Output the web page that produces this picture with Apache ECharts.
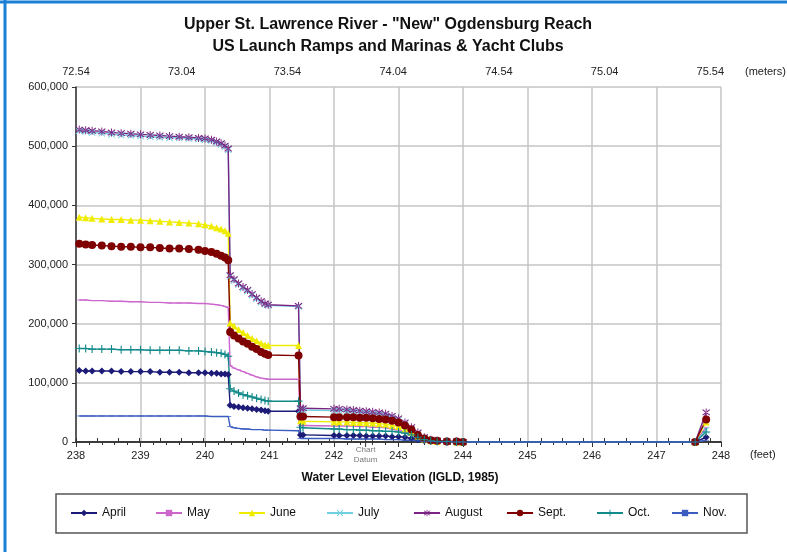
<!DOCTYPE html>
<html><head><meta charset="utf-8">
<script src="https://cdn.jsdelivr.net/npm/echarts@6/dist/echarts.min.js"></script>
<style>html,body{margin:0;padding:0;background:#fff}#c{width:787px;height:552px}</style>
</head><body><div id="c"></div>
<script>
// Water level (feet, IGLD 1985) shared by all series
const waterLevelFt = [
  238.05, 238.15, 238.25, 238.4, 238.55, 238.7, 238.85, 239.0, 239.15, 239.3,
  239.45, 239.6, 239.75, 239.9, 240.0, 240.1, 240.18, 240.25, 240.31, 240.36,
  240.39, 240.45, 240.52, 240.59, 240.66, 240.73, 240.8, 240.87, 240.93, 240.98, 241.45,
  241.48, 241.52, 242.0, 242.08, 242.2, 242.3, 242.4, 242.5, 242.6, 242.7,
  242.8, 242.9, 243.0, 243.1, 243.2, 243.3, 243.4, 243.5, 243.6, 243.75, 243.9, 244.0,
  247.6, 247.77
];
const aprilValues = [
  121000,120000,120000,120000,120000,119000,119000,119000,119000,118000,
  118000,118000,117000,117000,117000,116000,116000,115000,115000,114000,
  62000,60000,59000,58000,57000,56000,55000,54000,53000,52000,52000,
  12000,12000,11000,11000,11000,11000,11000,10000,10000,10000,
  10000,9000,9000,8000,6000,4000,2000,1000,1000,0,0,0,
  0,8000
];
const mayValues = [
  240000,240000,239000,239000,238000,238000,237000,237000,236000,236000,
  235000,235000,235000,234000,234000,233000,232000,231000,229000,227000,
  129000,125000,122000,119000,116000,113000,110000,108000,107000,106000,106000,
  28000,28000,27000,27000,27000,27000,26000,26000,25000,25000,
  24000,22000,20000,17000,12000,7000,4000,2000,1000,0,0,0,
  0,25000
];
const juneValues = [
  380000,379000,378000,377000,376000,376000,375000,375000,374000,373000,
  372000,371000,370000,369000,367000,365000,362000,360000,357000,353000,
  201000,196000,190000,185000,180000,175000,171000,167000,164000,163000,163000,
  36000,35000,34000,34000,34000,33000,33000,32000,32000,31000,
  30000,28000,26000,22000,16000,10000,5000,2000,1000,1000,0,0,
  0,34000
];
const julyValues = [
  526000,525000,523000,522000,520000,519000,518000,517000,516000,515000,
  514000,514000,513000,512000,511000,509000,506000,503000,499000,494000,
  280000,273000,266000,260000,255000,248000,242000,236000,233000,231000,229000,
  54000,54000,53000,53000,52000,51000,50000,49000,48000,47000,
  45000,41000,37000,30000,22000,14000,7000,3000,2000,1000,0,0,
  0,20000
];
const augustValues = [
  528000,527000,526000,525000,523000,522000,521000,520000,519000,518000,
  517000,516000,515000,514000,513000,511000,508000,505000,501000,496000,
  282000,275000,268000,262000,257000,250000,244000,238000,234000,232000,230000,
  57000,57000,56000,56000,55000,54000,53000,52000,51000,50000,
  48000,44000,40000,33000,25000,16000,8000,4000,2000,1000,1000,0,
  0,50000
];
const septValues = [
  335000,334000,333000,332000,331000,330000,330000,329000,329000,328000,
  327000,327000,326000,325000,323000,321000,318000,315000,312000,307000,
  186000,180000,175000,170000,166000,161000,157000,152000,149000,147000,146000,
  43000,43000,42000,42000,42000,42000,41000,41000,40000,39000,
  38000,36000,33000,28000,21000,12000,6000,3000,2000,1000,1000,0,
  0,38000
];
const octValues = [
  158000,158000,157000,157000,157000,156000,156000,156000,155000,155000,
  155000,155000,154000,154000,153000,152000,151000,150000,148000,145000,
  90000,86000,83000,80000,78000,76000,74000,72000,70000,69000,69000,
  25000,24000,22000,22000,21000,21000,20000,20000,19000,19000,
  18000,18000,17000,15000,12000,8000,4000,2000,1000,1000,0,0,
  0,17000
];
const novValues = [
  44000,44000,44000,44000,44000,44000,44000,44000,44000,44000,
  44000,44000,44000,44000,44000,43000,43000,43000,43000,43000,
  26000,24000,23000,22000,22000,21000,21000,21000,20000,20000,19000,
  6000,6000,6000,6000,5000,5000,5000,5000,5000,5000,
  4000,4000,4000,3000,3000,2000,1000,1000,0,0,0,0,
  0,3000
];
const seriesNames = ['April','May','June','July','August','Sept.','Oct.','Nov.'];
const seriesValues = [aprilValues, mayValues, juneValues, julyValues, augustValues, septValues, octValues, novValues];
const meterLabels = [72.54, 73.04, 73.54, 74.04, 74.54, 75.04, 75.54];
const meterMinorTicks = [72.54,72.64,72.74,72.84,72.94,73.04,73.14,73.24,73.34,73.44,73.54,73.64,73.74,73.84,73.94,74.04,
  74.14,74.24,74.34,74.44,74.54,74.64,74.74,74.84,74.94,75.04,75.14,75.24,75.34,75.44,75.54];
const chartDatumFt = 242.49;
const FT_PER_M = 3.28084;

const colors = ['#1c1c78','#cc66cc','#f0ec00','#70cfe0','#7b2383','#7f0000','#138a8a','#3a5cc0'];
const DASH = 'path://M0,0H10V3.5H0Z';
const symbols = [
  'diamond',
  DASH,
  'triangle',
  'path://M1,0L5,4L9,0L10,1L6,5L10,9L9,10L5,6L1,10L0,9L4,5L0,1Z',
  'path://M1,1L5,4.2L9,1L10,2L6,5L10,8L9,9L5,5.8L1,9L0,8L4,5L0,2ZM4.4,0L4.4,10L5.6,10L5.6,0Z',
  'circle',
  'path://M4.3,0H5.7V4.3H10V5.7H5.7V10H4.3V5.7H0V4.3H4.3Z',
  DASH
];
const symbolSizes = [7, [5,2], 7, 7, 8, 8, 8, [6,2]];
const legendLefts = [70, 155, 238, 326, 413, 506, 596, 671];

const FONT = '"Liberation Sans", Arial, sans-serif';
const NARROW = '"Liberation Sans Narrow", "Liberation Sans", Arial, sans-serif';

const chart = echarts.init(document.getElementById('c'), null, {renderer: 'canvas'});
const option = {
  animation: false,
  backgroundColor: '#fff',
  title: {
    text: 'Upper St. Lawrence River - "New" Ogdensburg Reach\nUS Launch Ramps and Marinas & Yacht Clubs',
    left: 383, top: 9, textAlign: 'center',
    textStyle: {fontFamily: NARROW, fontSize: 16, fontWeight: 'bold', color: '#111', lineHeight: 22}
  },
  grid: {left: 76, right: 66, top: 87, bottom: 110, containLabel: false},
  xAxis: [{
    type: 'value', min: 238, max: 248, interval: 1, position: 'bottom',
    axisLine: {show: true, onZero: false, lineStyle: {color: '#333', width: 1.5}},
    axisTick: {show: true, length: 5, lineStyle: {color: '#333'}},
    minorTick: {show: true, splitNumber: 5, length: 3, lineStyle: {color: '#333'}},
    splitLine: {show: true, lineStyle: {color: '#c4c4c4', width: 1.5}},
    axisLabel: {fontFamily: FONT, fontSize: 11, color: '#222', margin: 8}
  }, {
    type: 'value', min: 72.54, max: 248 / FT_PER_M, position: 'top',
    axisLine: {show: true, lineStyle: {color: '#333', width: 1.5}},
    axisTick: {show: true, length: 4, customValues: meterMinorTicks, lineStyle: {color: '#333'}},
    splitLine: {show: false},
    axisLabel: {fontFamily: FONT, fontSize: 11, color: '#222', margin: 10,
      customValues: meterLabels, formatter: v => v.toFixed(2)}
  }],
  yAxis: {
    type: 'value', min: 0, max: 600000, interval: 100000,
    axisLine: {show: true, lineStyle: {color: '#333', width: 1.5}},
    axisTick: {show: true, length: 4, lineStyle: {color: '#333'}},
    splitLine: {show: true, lineStyle: {color: '#c4c4c4', width: 1.5}},
    axisLabel: {fontFamily: FONT, fontSize: 11, color: '#222', margin: 8,
      formatter: v => v.toLocaleString('en-US')}
  },
  legend: seriesNames.map((n, i) => ({
    data: [n], left: legendLefts[i], top: 507, padding: 0,
    itemWidth: 26, itemHeight: 8, itemGap: 0,
    textStyle: {fontFamily: NARROW, fontSize: 12, color: '#111'}
  })),
  series: seriesNames.map((n, i) => ({
    name: n, type: 'line', xAxisIndex: 0,
    data: waterLevelFt.map((x, k) => [x, seriesValues[i][k]]),
    symbol: symbols[i], symbolSize: symbolSizes[i], showSymbol: true, symbolKeepAspect: true,
    lineStyle: {color: colors[i], width: 1.4},
    itemStyle: {color: colors[i], borderColor: colors[i], borderWidth: 0},
    emphasis: {disabled: true},
    clip: false
  }))
};
chart.setOption(option);

const dx = chart.convertToPixel({xAxisIndex: 0}, chartDatumFt);
const y0 = chart.convertToPixel({yAxisIndex: 0}, 0);
chart.setOption({
  graphic: [
    {type: 'line', shape: {x1: 5, y1: 0, x2: 5, y2: 552}, style: {stroke: '#1b7fd6', lineWidth: 3}},
    {type: 'line', shape: {x1: 0, y1: 2, x2: 787, y2: 2}, style: {stroke: '#1b7fd6', lineWidth: 3}},
    {type: 'line', shape: {x1: dx, y1: y0 - 8, x2: dx, y2: y0 + 5}, style: {stroke: '#333', lineWidth: 1}},
    {type: 'text', x: dx, y: y0 + 3, style: {text: 'Chart\nDatum', fill: '#777', font: '8px ' + NARROW, align: 'center', lineHeight: 10}},
    {type: 'text', x: 750, y: 455, style: {text: '(feet)', fill: '#222', font: '11px ' + FONT, align: 'left', verticalAlign: 'middle'}},
    {type: 'text', x: 745, y: 72, style: {text: '(meters)', fill: '#222', font: '11px ' + FONT, align: 'left', verticalAlign: 'middle'}},
    {type: 'text', x: 400, y: 478, style: {text: 'Water Level Elevation (IGLD, 1985)', fill: '#111', font: 'bold 12px ' + NARROW, align: 'center', verticalAlign: 'middle'}},
    {type: 'rect', shape: {x: 56, y: 494, width: 691, height: 39}, style: {fill: 'none', stroke: '#555', lineWidth: 1.5}, z: -1}
  ]
});
</script></body></html>
